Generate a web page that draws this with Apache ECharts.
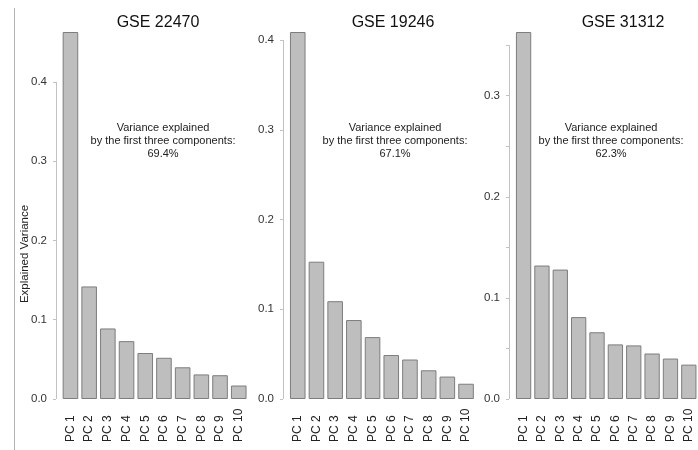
<!DOCTYPE html>
<html>
<head>
<meta charset="utf-8">
<script src="https://cdn.jsdelivr.net/npm/echarts@6/dist/echarts.min.js"></script>
<style>
  html, body { margin: 0; padding: 0; background: #ffffff; }
  #chart { width: 698px; height: 450px; }
</style>
</head>
<body>
<div id="chart"></div>
<script>
// Principal components shown in every panel
const categories = ['PC 1', 'PC 2', 'PC 3', 'PC 4', 'PC 5', 'PC 6', 'PC 7', 'PC 8', 'PC 9', 'PC 10'];

// Proportion of variance explained by each component, per dataset
const gse22470 = [0.463, 0.142, 0.089, 0.073, 0.058, 0.052, 0.040, 0.031, 0.030, 0.017];
const gse19246 = [0.409, 0.153, 0.109, 0.088, 0.069, 0.049, 0.044, 0.032, 0.025, 0.017];
const gse31312 = [0.363, 0.132, 0.128, 0.081, 0.066, 0.054, 0.053, 0.045, 0.040, 0.034];

const datasetNames = ['GSE 22470', 'GSE 19246', 'GSE 31312'];

// Axis ticks and labelled ticks per panel
const ticks22470 = [0, 0.1, 0.2, 0.3, 0.4];
const ticks19246 = [0, 0.1, 0.2, 0.3, 0.4];
const ticks31312 = [0, 0.05, 0.1, 0.15, 0.2, 0.25, 0.3, 0.35];
const labels22470 = [0, 0.1, 0.2, 0.3, 0.4];
const labels19246 = [0, 0.1, 0.2, 0.3, 0.4];
const labels31312 = [0, 0.1, 0.2, 0.3];

const panels = [
  { name: datasetNames[0], values: gse22470, ticks: ticks22470, labels: labels22470 },
  { name: datasetNames[1], values: gse19246, ticks: ticks19246, labels: labels19246 },
  { name: datasetNames[2], values: gse31312, ticks: ticks31312, labels: labels31312 }
];

// Layout of each panel (pixels)
const gridLeft = [61.1, 288.4, 514.4];
const axisX = [56, 283, 509];
const titleX = [158, 393, 623];
const noteX = [163, 395, 611];
const GRID_TOP = 32, GRID_HEIGHT = 367, GRID_WIDTH = 187;

const FONT = 'Liberation Sans, Arial, sans-serif';
const BAR_FILL = '#bebebe';
const BAR_EDGE = '#7d7d7d';
const AXIS_GREY = '#c2c2c2';

const chart = echarts.init(document.getElementById('chart'), null, { renderer: 'canvas' });

function firstThreeShare(values) {
  const s = values[0] + values[1] + values[2];
  return (s * 100).toFixed(1) + '%';
}

const option = {
  backgroundColor: '#ffffff',
  animation: false,
  title: [],
  grid: [],
  xAxis: [],
  yAxis: [],
  series: []
};

panels.forEach((p, i) => {
  option.title.push({
    text: p.name,
    left: titleX[i],
    top: 14,
    padding: 0,
    textAlign: 'center',
    textStyle: { fontFamily: FONT, fontSize: 16, fontWeight: 'normal', color: '#111', lineHeight: 18 }
  });
  option.title.push({
    text: 'Variance explained\nby the first three components:\n' + firstThreeShare(p.values),
    left: noteX[i],
    top: 121,
    padding: 0,
    textAlign: 'center',
    textStyle: { fontFamily: FONT, fontSize: 11, fontWeight: 'normal', color: '#222', lineHeight: 13 }
  });

  option.grid.push({
    left: gridLeft[i],
    top: GRID_TOP,
    width: GRID_WIDTH,
    height: GRID_HEIGHT,
    containLabel: false
  });

  option.xAxis.push({
    type: 'category',
    gridIndex: i,
    data: categories,
    axisLine: { show: false },
    axisTick: { show: false },
    axisLabel: {
      interval: 0,
      rotate: 90,
      align: 'left',
      margin: 43,
      fontFamily: FONT,
      fontSize: 12,
      color: '#222'
    }
  });

  option.yAxis.push({
    type: 'value',
    gridIndex: i,
    min: 0,
    max: v => v.max,
    position: 'left',
    offset: gridLeft[i] - axisX[i],
    axisLine: { show: false },
    splitLine: { show: false },
    axisTick: {
      show: true,
      length: 3,
      customValues: p.ticks,
      lineStyle: { color: AXIS_GREY, width: 1 }
    },
    axisLabel: {
      customValues: p.labels,
      formatter: v => v.toFixed(1),
      margin: 9,
      fontFamily: FONT,
      fontSize: 11.5,
      color: '#333'
    }
  });

  option.series.push({
    type: 'bar',
    name: p.name,
    xAxisIndex: i,
    yAxisIndex: i,
    data: p.values,
    barCategoryGap: '16.7%',
    itemStyle: { color: BAR_FILL, borderColor: BAR_EDGE, borderWidth: 1 },
    emphasis: { disabled: true }
  });
});

chart.setOption(option);

// Axis spines run only from 0 to the last tick of each panel
const graphics = [];
panels.forEach((p, i) => {
  const yBottom = chart.convertToPixel({ yAxisIndex: i }, p.ticks[0]);
  const yTop = chart.convertToPixel({ yAxisIndex: i }, p.ticks[p.ticks.length - 1]);
  const x = Math.round(axisX[i]) + 0.5;
  graphics.push({
    type: 'line',
    shape: { x1: x, y1: yBottom, x2: x, y2: yTop },
    style: { stroke: AXIS_GREY, lineWidth: 1 },
    silent: true
  });
});

// Y axis title shared by the row
graphics.push({
  type: 'text',
  x: 24.5,
  y: 254,
  rotation: Math.PI / 2,
  style: {
    text: 'Explained Variance',
    fontFamily: FONT,
    fontSize: 11.5,
    fill: '#222',
    textAlign: 'center',
    textVerticalAlign: 'middle'
  },
  silent: true
});

// Frame rule on the left margin
graphics.push({
  type: 'line',
  shape: { x1: 14.5, y1: 8, x2: 14.5, y2: 450 },
  style: { stroke: '#b3b3b3', lineWidth: 1 },
  silent: true
});

chart.setOption({ graphic: graphics });
</script>
</body>
</html>
